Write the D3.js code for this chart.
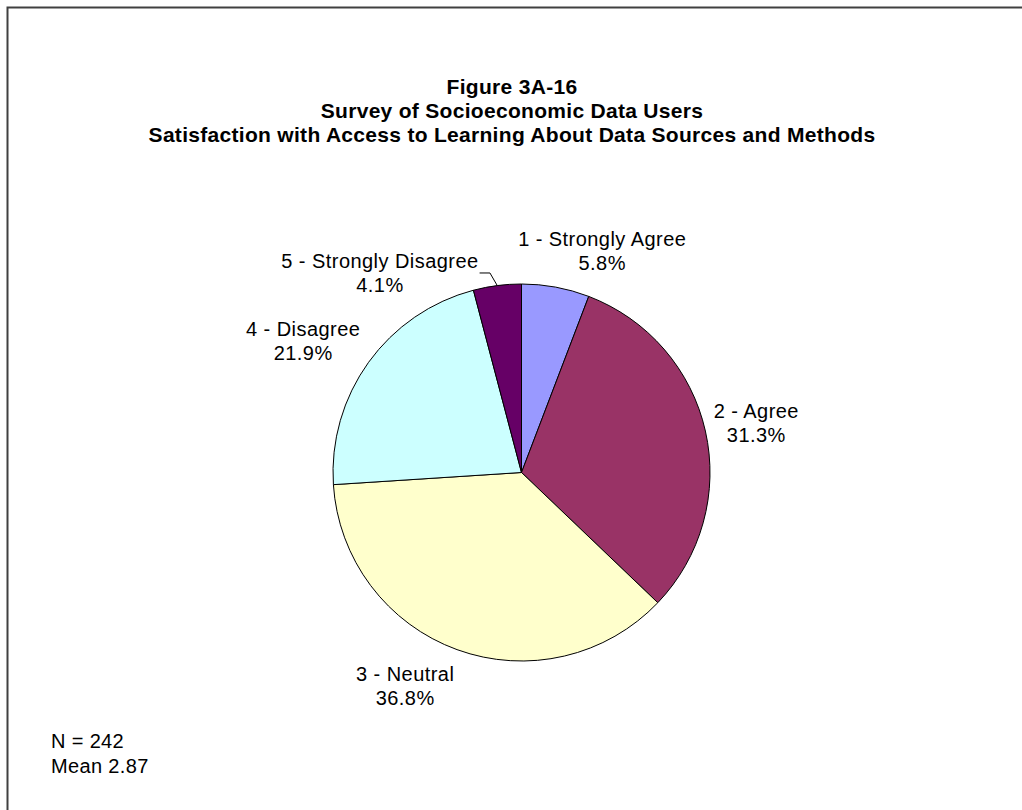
<!DOCTYPE html>
<html>
<head>
<meta charset="utf-8">
<script src="https://cdn.jsdelivr.net/npm/d3@7"></script>
<style>
  html, body { margin: 0; padding: 0; background: #ffffff; }
  svg { display: block; }
  text { font-family: "Liberation Sans", Arial, sans-serif; fill: #000; }
</style>
</head>
<body>
<svg id="chart" width="1022" height="810"></svg>
<script>
// ---- data ----
const categories = ["1 - Strongly Agree", "2 - Agree", "3 - Neutral", "4 - Disagree", "5 - Strongly Disagree"];
const percents = [5.8, 31.3, 36.8, 21.9, 4.1];
const colors = ["#9999FF", "#993366", "#FFFFCC", "#CCFFFF", "#660066"];
const titleLines = ["Figure 3A-16", "Survey of Socioeconomic Data Users", "Satisfaction with Access to Learning About Data Sources and Methods"];
const noteLines = ["N = 242", "Mean 2.87"];

// ---- layout ----
const W = 1022, H = 810;
const cx = 521.5, cy = 472.5, R = 188.5;
// label placement (polar: angle in degrees clockwise from 12 o'clock, radius in px) — layout only
const labelPolar = [[20.0, 236], [78.1, 240], [208.6, 243], [301.1, 255], [324.7, 245]];
const leaderFor = [false, false, false, false, true];

const svg = d3.select("#chart");

// border (extends past right/bottom edge as in the reference)
svg.append("rect")
  .attr("x", 7.5).attr("y", 7.5)
  .attr("width", W + 20).attr("height", H + 20)
  .attr("fill", "#fff").attr("stroke", "#404040").attr("stroke-width", 2);

// title
const title = svg.append("text")
  .attr("text-anchor", "middle")
  .attr("font-size", 21).attr("font-weight", "bold")
  .attr("letter-spacing", 0.3);
titleLines.forEach((t, i) => {
  title.append("tspan").attr("x", 512).attr("y", 94 + i * 24).text(t);
});

// pie
const pie = d3.pie().sort(null).value(d => d)(percents);
const arc = d3.arc().innerRadius(0).outerRadius(R);
const g = svg.append("g").attr("transform", `translate(${cx},${cy})`);
g.selectAll("path.slice")
  .data(pie)
  .join("path")
  .attr("class", "slice")
  .attr("d", arc)
  .attr("fill", (d, i) => colors[i])
  .attr("stroke", "#000")
  .attr("stroke-width", 1)
  .attr("stroke-linejoin", "round");

function polar(angDeg, r) {
  const a = angDeg * Math.PI / 180;
  return [r * Math.sin(a), -r * Math.cos(a)];
}

// labels
const fs = 20, lh = 24;
pie.forEach((d, i) => {
  const [ang, rad] = labelPolar[i];
  const [lx, ly] = polar(ang, rad);
  const t = g.append("text")
    .attr("text-anchor", "middle")
    .attr("font-size", fs)
    .attr("letter-spacing", 0.45);
  const b1 = ly - lh / 2 + 7;
  t.append("tspan").attr("x", lx).attr("y", b1).text(categories[i]);
  t.append("tspan").attr("x", lx).attr("y", b1 + lh).text(percents[i].toFixed(1) + "%");

  if (leaderFor[i]) {
    const mid = (d.startAngle + d.endAngle) / 2 * 180 / Math.PI;
    const p0 = polar(mid, R);
    const p1 = polar(mid - 1.6, R + 13.5);
    const bb = t.node().getBBox();
    const p2 = [bb.x + bb.width + 1, p1[1]];
    g.append("path")
      .attr("d", d3.line()([p0, p1, p2]))
      .attr("fill", "none")
      .attr("stroke", "#000")
      .attr("stroke-width", 1);
  }
});

// notes
const note = svg.append("text").attr("font-size", fs).attr("letter-spacing", 0.35);
noteLines.forEach((t, i) => {
  note.append("tspan").attr("x", 51).attr("y", 748 + i * 25).text(t);
});
</script>
</body>
</html>
